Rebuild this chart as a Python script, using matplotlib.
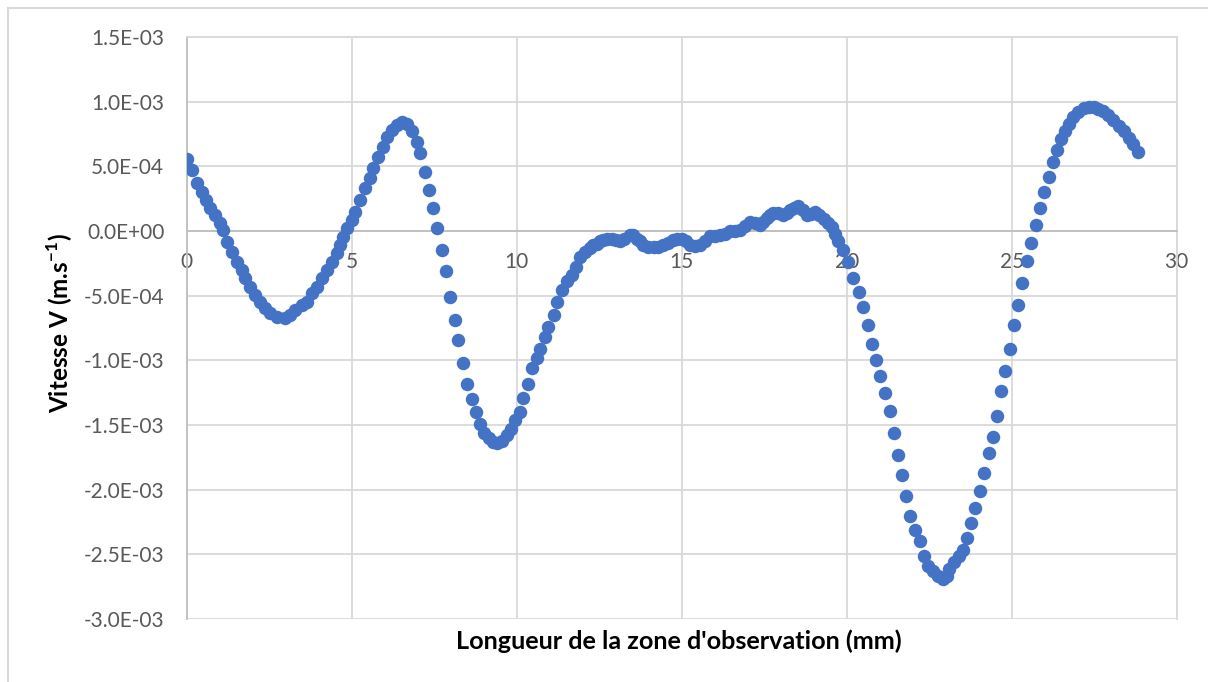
import matplotlib
matplotlib.use("Agg")
import matplotlib.pyplot as plt
from matplotlib.lines import Line2D

# ---------------- data ----------------
x_mm = [0.03, 0.16, 0.31, 0.46, 0.59, 0.71, 0.86, 1.02, 1.12, 1.22, 1.37, 1.52, 1.67, 1.77,
        1.92, 2.08, 2.23, 2.38, 2.53, 2.73, 2.98, 3.14, 3.29, 3.49, 3.64, 3.79, 3.95, 4.10,
        4.25, 4.40, 4.55, 4.65, 4.75, 4.85, 5.01, 5.11, 5.26, 5.41, 5.56, 5.66, 5.81, 5.96,
        6.07, 6.22, 6.37, 6.52, 6.67, 6.82, 6.98, 7.08, 7.23, 7.35, 7.48, 7.60, 7.73, 7.85,
        7.98, 8.12, 8.24, 8.39, 8.51, 8.64, 8.76, 8.89, 9.02, 9.15, 9.30, 9.42, 9.55, 9.70,
        9.82, 9.95, 10.11, 10.21, 10.36, 10.46, 10.61, 10.71, 10.86, 10.96, 11.12, 11.24,
        11.37, 11.52, 11.67, 11.80, 11.92, 12.08, 12.23, 12.33, 12.43, 12.53, 12.63, 12.75,
        12.88, 13.02, 13.14, 13.26, 13.44, 13.54, 13.64, 13.74, 13.84, 13.99, 14.15, 14.30,
        14.45, 14.60, 14.75, 14.87, 15.01, 15.14, 15.26, 15.41, 15.56, 15.71, 15.86, 16.02,
        16.17, 16.32, 16.47, 16.62, 16.77, 16.92, 17.08, 17.23, 17.38, 17.48, 17.58, 17.68,
        17.78, 17.93, 18.08, 18.19, 18.29, 18.41, 18.54, 18.67, 18.79, 18.91, 19.05, 19.17,
        19.30, 19.45, 19.55, 19.65, 19.75, 19.90, 20.05, 20.20, 20.38, 20.51, 20.64, 20.77,
        20.89, 21.02, 21.16, 21.30, 21.42, 21.56, 21.68, 21.81, 21.93, 22.08, 22.21, 22.34,
        22.46, 22.63, 22.78, 22.93, 23.04, 23.11, 23.24, 23.39, 23.54, 23.64, 23.77, 23.89,
        24.05, 24.17, 24.30, 24.42, 24.55, 24.68, 24.81, 24.94, 25.08, 25.20, 25.32, 25.46,
        25.59, 25.73, 25.86, 25.99, 26.12, 26.25, 26.37, 26.50, 26.62, 26.75, 26.87, 27.02,
        27.18, 27.33, 27.48, 27.63, 27.78, 27.93, 28.08, 28.24, 28.39, 28.54, 28.69, 28.84]

# velocity in units of 1e-3 m/s
v_milli = [0.557, 0.472, 0.369, 0.304, 0.240, 0.175, 0.124, 0.060, 0.008, -0.083, -0.160,
           -0.237, -0.302, -0.366, -0.431, -0.495, -0.547, -0.598, -0.637, -0.663, -0.676,
           -0.650, -0.611, -0.572, -0.547, -0.482, -0.431, -0.366, -0.302, -0.237, -0.172,
           -0.108, -0.044, 0.021, 0.085, 0.149, 0.240, 0.330, 0.408, 0.485, 0.575, 0.652,
           0.730, 0.780, 0.820, 0.840, 0.830, 0.770, 0.690, 0.600, 0.460, 0.320, 0.180,
           0.020, -0.150, -0.310, -0.510, -0.690, -0.840, -1.020, -1.180, -1.300, -1.400,
           -1.490, -1.560, -1.600, -1.630, -1.640, -1.620, -1.580, -1.530, -1.460, -1.400,
           -1.290, -1.180, -1.060, -0.980, -0.910, -0.820, -0.740, -0.650, -0.550, -0.460,
           -0.390, -0.340, -0.280, -0.200, -0.160, -0.130, -0.110, -0.100, -0.080, -0.070,
           -0.065, -0.060, -0.070, -0.080, -0.065, -0.030, -0.030, -0.060, -0.080, -0.110,
           -0.120, -0.120, -0.120, -0.110, -0.090, -0.070, -0.060, -0.060, -0.075, -0.110,
           -0.115, -0.110, -0.080, -0.040, -0.040, -0.030, -0.020, 0.000, 0.000, 0.010,
           0.040, 0.070, 0.060, 0.050, 0.070, 0.100, 0.120, 0.140, 0.140, 0.120, 0.140,
           0.160, 0.175, 0.190, 0.160, 0.120, 0.130, 0.150, 0.120, 0.090, 0.060, 0.030,
           -0.020, -0.080, -0.150, -0.240, -0.360, -0.470, -0.590, -0.730, -0.870, -1.000,
           -1.120, -1.250, -1.390, -1.560, -1.730, -1.890, -2.050, -2.200, -2.310, -2.400,
           -2.510, -2.590, -2.630, -2.670, -2.690, -2.670, -2.610, -2.560, -2.510, -2.470,
           -2.370, -2.260, -2.140, -2.010, -1.870, -1.720, -1.590, -1.430, -1.240, -1.080,
           -0.910, -0.730, -0.570, -0.400, -0.230, -0.090, 0.050, 0.180, 0.300, 0.420,
           0.530, 0.630, 0.710, 0.770, 0.830, 0.880, 0.920, 0.950, 0.960, 0.960, 0.940,
           0.930, 0.900, 0.860, 0.810, 0.770, 0.720, 0.670, 0.610]

v_ms = [val * 1e-3 for val in v_milli]

x_ticks = [0, 5, 10, 15, 20, 25, 30]
x_tick_labels = ["0", "5", "10", "15", "20", "25", "30"]
y_ticks = [1.5e-3, 1.0e-3, 0.5e-3, 0.0, -0.5e-3, -1.0e-3, -1.5e-3, -2.0e-3, -2.5e-3, -3.0e-3]
y_tick_labels = ["1.5E-03", "1.0E-03", "5.0E-04", "0.0E+00", "-5.0E-04", "-1.0E-03",
                 "-1.5E-03", "-2.0E-03", "-2.5E-03", "-3.0E-03"]

x_title = "Longueur de la zone d'observation (mm)"
y_title = r"Vitesse V (m.s$^{\mathbf{-1}}$)"

# ---------------- styling ----------------
plt.rcParams['font.family'] = ['Lato', 'DejaVu Sans']
plt.rcParams['mathtext.fontset'] = 'custom'
plt.rcParams['mathtext.rm'] = 'Lato'
plt.rcParams['mathtext.bf'] = 'Lato:bold'

W, H = 1208, 682
fig = plt.figure(figsize=(W / 100, H / 100), dpi=100)
fig.patch.set_facecolor('white')

left, right, top, bottom = 186.5, 1176.7, 37, 619
ax = fig.add_axes([left / W, 1 - bottom / H, (right - left) / W, (bottom - top) / H])

ax.plot(x_mm, v_ms, linestyle='none', marker='o', markersize=9.7,
        color='#4472C4', markeredgewidth=0, zorder=3)

ax.set_xlim(0, 30)
ax.set_ylim(-3.0e-3, 1.5e-3)
ax.set_xticks(x_ticks)
ax.set_xticklabels(x_tick_labels)
ax.set_yticks(y_ticks)
ax.set_yticklabels(y_tick_labels)

grid_col = '#D9D9D9'
ax.grid(True, color=grid_col, linewidth=1.3, zorder=0)
ax.set_axisbelow(True)

for s in ['top', 'right']:
    ax.spines[s].set_color(grid_col)
    ax.spines[s].set_linewidth(1.3)
ax.spines['bottom'].set_position(('data', 0))
ax.spines['bottom'].set_color('#BFBFBF')
ax.spines['bottom'].set_linewidth(1.3)
ax.spines['left'].set_color('#BFBFBF')
ax.spines['left'].set_linewidth(1.3)

ax.tick_params(axis='both', length=0, labelsize=15, labelcolor='#595959')
ax.tick_params(axis='x', pad=15)
ax.tick_params(axis='y', pad=16)

fig.text(679 / W, 1 - 641 / H, x_title, ha='center', va='center',
         fontsize=18.2, fontweight='bold', color='black')
fig.text(60 / W, 1 - 323 / H, y_title, ha='center', va='center', rotation=90,
         fontsize=17.5, fontweight='bold', color='black')

# outer chart border (top and left visible in the reference)
fig.add_artist(Line2D([8 / W, 8 / W], [0, 1 - 8 / H], transform=fig.transFigure,
                      color=grid_col, linewidth=1.5))
fig.add_artist(Line2D([8 / W, 1], [1 - 8 / H, 1 - 8 / H], transform=fig.transFigure,
                      color=grid_col, linewidth=1.5))

fig.savefig('out.png', dpi=100, facecolor='white')
